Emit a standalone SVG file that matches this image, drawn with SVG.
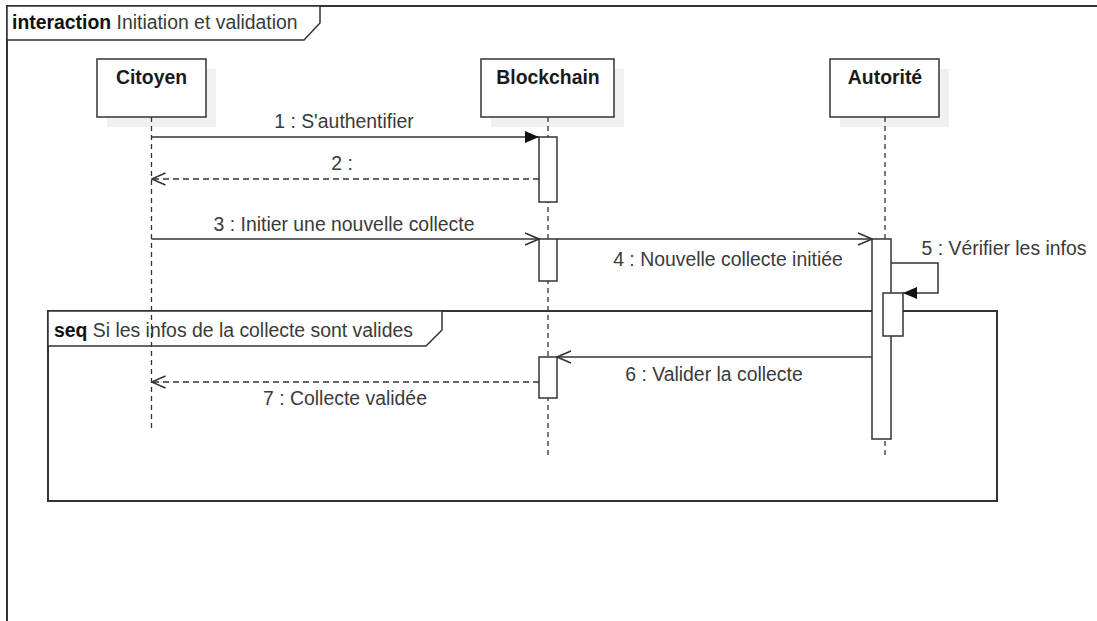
<svg xmlns="http://www.w3.org/2000/svg" width="1097" height="621" viewBox="0 0 1097 621">
  <style>
    .frame { fill: none; stroke: #333; stroke-width: 2; }
    .tab { fill: #fff; stroke: #333; stroke-width: 1.5; }
    .actor { fill: #fff; stroke: #333; stroke-width: 1.5; }
    .shadow { fill: #f0f0f0; }
    .name { font-family: "Liberation Sans", Arial, sans-serif; font-size: 19.4px; font-weight: bold; fill: #1a1a1a; text-anchor: middle; }
    .lifeline { stroke: #333; stroke-width: 1.3; stroke-dasharray: 5 4; fill: none; }
    .act { fill: #fff; stroke: #333; stroke-width: 1.5; }
    .msg { stroke: #333; stroke-width: 1.5; fill: none; }
    .reply { stroke: #333; stroke-width: 1.5; fill: none; stroke-dasharray: 6 4; }
    .label { font-family: "Liberation Sans", Arial, sans-serif; font-size: 19.4px; fill: #3a3a3a; text-anchor: middle; }
    .kw { font-family: "Liberation Sans", Arial, sans-serif; font-size: 19.4px; font-weight: bold; fill: #111; }
    .title { font-family: "Liberation Sans", Arial, sans-serif; font-size: 19.4px; fill: #3a3a3a; }
  </style>
  <defs>
    <marker id="filled" viewBox="0 0 14 12" refX="14" refY="6" markerWidth="14" markerHeight="12" markerUnits="userSpaceOnUse" orient="auto">
      <path d="M0,0 L14,6 L0,12 Z" fill="#111"/>
    </marker>
    <marker id="open" viewBox="0 0 16 14" refX="15" refY="7" markerWidth="16" markerHeight="14" markerUnits="userSpaceOnUse" orient="auto">
      <path d="M1,1 L15,7 L1,13" fill="none" stroke="#333" stroke-width="1.5"/>
    </marker>
  </defs>

  <rect width="1097" height="621" fill="#fff"/>

  <!-- interaction frame -->
  <g id="frame-interaction">
    <path class="frame" d="M1100,6 L7,6 L7,625"/>
    <path class="tab" d="M7,6 L320,6 L320,23 L304,40 L7,40 Z"/>
    <text x="12" y="29"><tspan class="kw">interaction</tspan><tspan class="title"> Initiation et validation</tspan></text>
  </g>

  <!-- combined fragment -->
  <g id="fragment-seq">
    <rect class="frame" x="48" y="311" width="949" height="190"/>
    <path class="tab" d="M48,311 L442,311 L442,330 L426,346 L48,346 Z"/>
    <text x="54" y="337"><tspan class="kw">seq</tspan><tspan class="title">  Si les infos de la collecte sont valides</tspan></text>
  </g>

  <!-- lifelines -->
  <g id="node-citoyen">
    <rect class="shadow" x="107" y="69" width="109" height="58"/>
    <rect class="actor" x="97" y="59" width="109" height="58"/>
    <text class="name" x="151.5" y="84">Citoyen</text>
    <line class="lifeline" x1="151.5" y1="117" x2="151.5" y2="428"/>
  </g>
  <g id="node-blockchain">
    <rect class="shadow" x="491" y="69" width="133" height="58"/>
    <rect class="actor" x="481" y="59" width="133" height="58"/>
    <text class="name" x="548" y="84">Blockchain</text>
    <line class="lifeline" x1="548" y1="117" x2="548" y2="458"/>
  </g>
  <g id="node-autorite">
    <rect class="shadow" x="840" y="69" width="109" height="58"/>
    <rect class="actor" x="830" y="59" width="109" height="58"/>
    <text class="name" x="885" y="84">Autorité</text>
    <line class="lifeline" x1="885" y1="117" x2="885" y2="457"/>
  </g>

  <!-- activations -->
  <g id="activations">
    <rect class="act" x="539" y="137" width="18" height="65"/>
    <rect class="act" x="539" y="239" width="18" height="42"/>
    <rect class="act" x="872" y="239" width="19" height="200"/>
    <rect class="act" x="539" y="357" width="18" height="41"/>
    <rect class="act" x="883" y="293" width="20" height="43"/>
  </g>

  <!-- messages -->
  <g id="connectors">
    <line class="msg" x1="151.5" y1="137" x2="539" y2="137" marker-end="url(#filled)"/>
    <text class="label" x="344" y="128">1 : S'authentifier</text>

    <line class="reply" x1="539" y1="179" x2="151.5" y2="179" marker-end="url(#open)"/>
    <text class="label" x="342" y="170">2 :</text>

    <line class="msg" x1="151.5" y1="239" x2="539" y2="239" marker-end="url(#open)"/>
    <text class="label" x="344" y="231">3 : Initier une nouvelle collecte</text>

    <line class="msg" x1="557" y1="239" x2="872" y2="239" marker-end="url(#open)"/>
    <text class="label" x="728" y="266">4 : Nouvelle collecte initiée</text>

    <path class="msg" d="M891,263 L938,263 L938,293 L903,293" marker-end="url(#filled)"/>
    <text class="label" x="1004" y="255">5 : Vérifier les infos</text>

    <line class="msg" x1="872" y1="357" x2="557" y2="357" marker-end="url(#open)"/>
    <text class="label" x="714" y="381">6 : Valider la collecte</text>

    <line class="reply" x1="539" y1="382" x2="151.5" y2="382" marker-end="url(#open)"/>
    <text class="label" x="345" y="405">7 : Collecte validée</text>
  </g>
</svg>
